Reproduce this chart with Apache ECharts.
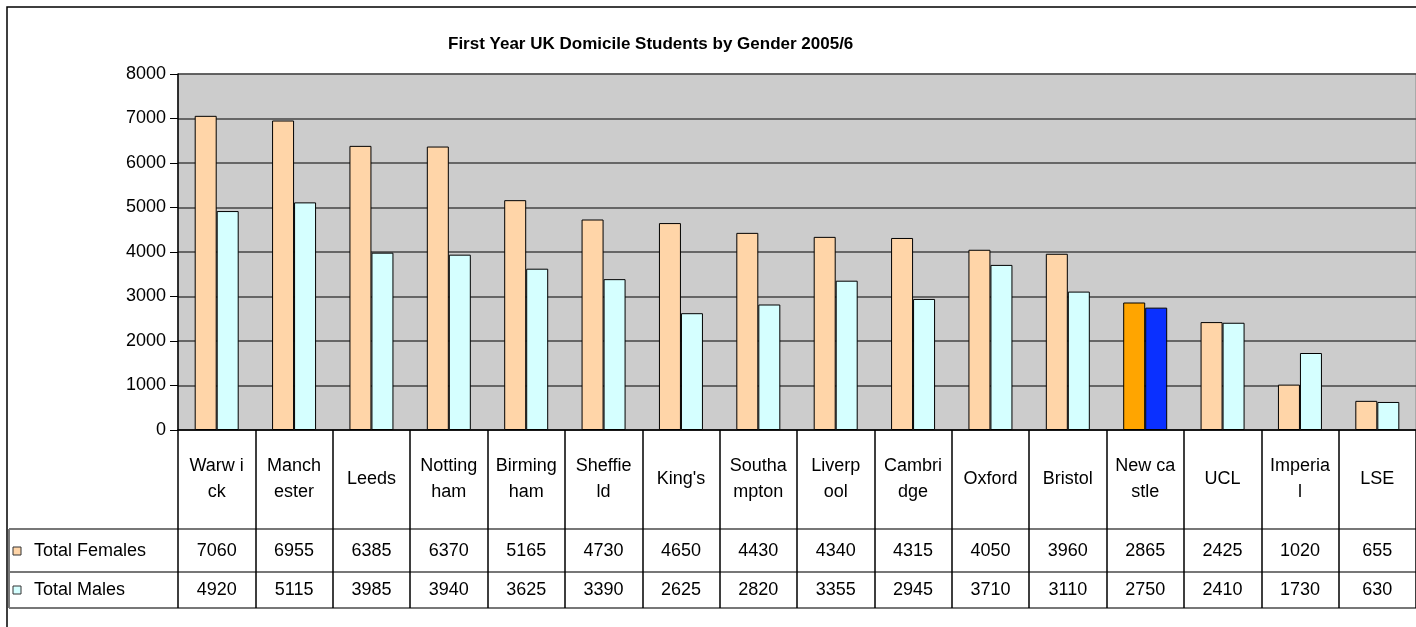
<!DOCTYPE html>
<html>
<head>
<meta charset="utf-8">
<script src="https://cdn.jsdelivr.net/npm/echarts@6/dist/echarts.min.js"></script>
<style>
  html, body { margin: 0; padding: 0; background: #fff; }
  #viz { width: 1416px; height: 627px; }
</style>
</head>
<body>
<div id="viz"></div>
<script>
var universities = ['Warw i\nck', 'Manch\nester', 'Leeds', 'Notting\nham', 'Birming\nham', 'Sheffie\nld',
    "King's", 'Southa\nmpton', 'Liverp\nool', 'Cambri\ndge', 'Oxford', 'Bristol', 'New ca\nstle', 'UCL', 'Imperia\nl', 'LSE'];
var totalFemales = [7060, 6955, 6385, 6370, 5165, 4730, 4650, 4430, 4340, 4315, 4050, 3960, 2865, 2425, 1020, 655];
var totalMales = [4920, 5115, 3985, 3940, 3625, 3390, 2625, 2820, 3355, 2945, 3710, 3110, 2750, 2410, 1730, 630];
var highlighted = 'New ca\nstle';

var font = 'Liberation Sans, Arial, sans-serif';
var femaleColor = '#FFD5A8', maleColor = '#D5FFFF';

function barData(values, hiColor) {
    return values.map(function (v, i) {
        if (universities[i] === highlighted) {
            return { value: v, itemStyle: { color: hiColor } };
        }
        return v;
    });
}

var myChart = echarts.init(document.getElementById('viz'));

myChart.setOption({
    animation: false,
    title: {
        text: 'First Year UK Domicile Students by Gender 2005/6',
        left: 443,
        top: 31,
        textStyle: { fontFamily: font, fontSize: 17, fontWeight: 'bold', color: '#000' }
    },
    grid: {
        left: 178, top: 74, right: -9, height: 356,
        show: true, backgroundColor: '#CCCCCC', borderColor: '#888', borderWidth: 1
    },
    xAxis: {
        type: 'category',
        data: universities,
        axisLine: { lineStyle: { color: '#000', width: 1.5 } },
        axisTick: { show: true, length: 178, lineStyle: { color: '#000', width: 1.5 } },
        axisLabel: { show: false }
    },
    yAxis: {
        type: 'value',
        min: 0, max: 8000, interval: 1000,
        axisLine: { show: true, lineStyle: { color: '#000', width: 1.5 } },
        axisTick: { show: true, length: 8, lineStyle: { color: '#000' } },
        axisLabel: {
            margin: 12, fontFamily: font, fontSize: 18, color: '#000',
            formatter: function (v) { return String(v); }
        },
        splitLine: { lineStyle: { color: '#444', width: 1.5 } }
    },
    series: [{
        name: 'Total Females',
        type: 'bar',
        barWidth: 22,
        barGap: '0%',
        itemStyle: { color: femaleColor, borderColor: '#000', borderWidth: 1 },
        data: barData(totalFemales, '#FFA500')
    }, {
        name: 'Total Males',
        type: 'bar',
        barWidth: 22,
        itemStyle: { color: maleColor, borderColor: '#000', borderWidth: 1 },
        data: barData(totalMales, '#0A30FF')
    }]
});

// data table under the plot, placed on the category axis
var headerMid = 479, femaleMid = 551, maleMid = 590;
var tableText = { fontFamily: font, fontSize: 18, fill: '#000' };
var graphics = [
    { type: 'rect', shape: { x: 7, y: 7, width: 1430, height: 640 }, style: { fill: null, stroke: '#000', lineWidth: 1.5 }, silent: true },
    { type: 'line', shape: { x1: 9, y1: 529, x2: 1416, y2: 529 }, style: { stroke: '#777', lineWidth: 2 } },
    { type: 'line', shape: { x1: 9, y1: 572, x2: 1416, y2: 572 }, style: { stroke: '#777', lineWidth: 2 } },
    { type: 'line', shape: { x1: 9, y1: 608, x2: 1416, y2: 608 }, style: { stroke: '#777', lineWidth: 2 } },
    { type: 'line', shape: { x1: 9, y1: 529, x2: 9, y2: 608 }, style: { stroke: '#777', lineWidth: 2 } },
    { type: 'rect', shape: { x: 13, y: 547, width: 8, height: 8 }, style: { fill: femaleColor, stroke: '#333', lineWidth: 1 } },
    { type: 'rect', shape: { x: 13, y: 586, width: 8, height: 8 }, style: { fill: maleColor, stroke: '#333', lineWidth: 1 } },
    { type: 'text', x: 34, y: femaleMid, style: Object.assign({ text: 'Total Females', verticalAlign: 'middle' }, tableText) },
    { type: 'text', x: 34, y: maleMid, style: Object.assign({ text: 'Total Males', verticalAlign: 'middle' }, tableText) }
];
universities.forEach(function (name, i) {
    var x = myChart.convertToPixel({ xAxisIndex: 0 }, name);
    graphics.push({ type: 'text', x: x, y: headerMid,
        style: Object.assign({ text: name, align: 'center', verticalAlign: 'middle', lineHeight: 26 }, tableText) });
    graphics.push({ type: 'text', x: x, y: femaleMid,
        style: Object.assign({ text: String(totalFemales[i]), align: 'center', verticalAlign: 'middle' }, tableText) });
    graphics.push({ type: 'text', x: x, y: maleMid,
        style: Object.assign({ text: String(totalMales[i]), align: 'center', verticalAlign: 'middle' }, tableText) });
});
myChart.setOption({ graphic: graphics });
</script>
</body>
</html>
